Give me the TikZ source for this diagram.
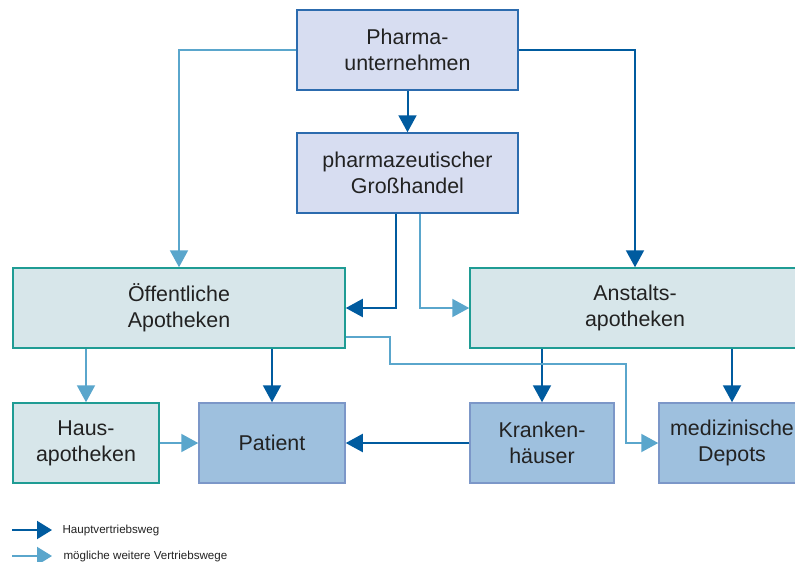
\documentclass[tikz,border=0pt]{standalone}
\usepackage{fontspec}
\setmainfont{Liberation Sans}
\usetikzlibrary{arrows.meta}
\definecolor{darkarrow}{HTML}{005B9F}
\definecolor{lightarrow}{HTML}{5AA6CC}
\definecolor{topfill}{HTML}{D7DDF1}
\definecolor{topdraw}{HTML}{2C6BAE}
\definecolor{midfill}{HTML}{D7E6EA}
\definecolor{middraw}{HTML}{1F9C94}
\definecolor{endfill}{HTML}{9EC0DE}
\definecolor{enddraw}{HTML}{7C97C8}
\definecolor{txt}{HTML}{222222}
\begin{document}
\begin{tikzpicture}[x=1pt,y=1pt,
  box/.style={rectangle, line width=1.5pt, minimum height=80pt, inner sep=0pt, align=center,
    text=txt, font=\fontsize{21.4}{26}\selectfont},
  topbox/.style={box, fill=topfill, draw=topdraw},
  midbox/.style={box, fill=midfill, draw=middraw},
  endbox/.style={box, fill=endfill, draw=enddraw},
  mainway/.style={draw=darkarrow, line width=2pt, -{Triangle[length=17pt,width=18pt]}},
  otherway/.style={draw=lightarrow, line width=2pt, -{Triangle[length=17pt,width=18pt]}},
  legtext/.style={anchor=west, text=txt, font=\fontsize{11.6}{13}\selectfont}]
\useasboundingbox (0,0) rectangle (795,-562);

\node[topbox, minimum width=221pt] (pharma) at (407.5,-50) {Pharma-\\unternehmen};
\node[topbox, minimum width=221pt] (gross) at (407.5,-173) {pharmazeutischer\\Großhandel};
\node[midbox, minimum width=332pt] (oeff) at (179,-308) {Öffentliche\\Apotheken};
\node[midbox, minimum width=330pt] (anst) at (635,-308) {Anstalts-\\apotheken};
\node[midbox, minimum width=146pt] (haus) at (86,-443) {Haus-\\apotheken};
\node[endbox, minimum width=146pt] (patient) at (272,-443) {Patient};
\node[endbox, minimum width=144pt] (kranken) at (542,-443) {Kranken-\\häuser};
\node[endbox, minimum width=146pt] (depots) at (732,-443) {medizinische\\Depots};

\coordinate (k1) at (390,-364);
\coordinate (k2) at (626,-364);

\draw[mainway] (pharma.south) -- (gross.north);
\draw[otherway] (pharma.west) -| (oeff.north);
\draw[mainway] (pharma.east) -| (anst.north);
\draw[mainway] ([xshift=-11.5pt]gross.south) |- (oeff.east);
\draw[otherway] ([xshift=12.5pt]gross.south) |- (anst.west);
\draw[otherway] (haus.north |- oeff.south) -- (haus.north);
\draw[mainway] (patient.north |- oeff.south) -- (patient.north);
\draw[mainway] (kranken.north |- anst.south) -- (kranken.north);
\draw[mainway] (depots.north |- anst.south) -- (depots.north);
\draw[mainway] (kranken.west) -- (patient.east);
\draw[otherway] (haus.east) -- (patient.west);
\draw[otherway] ([yshift=-29pt]oeff.east) -| (k1) -- (k2) |- (depots.west);

\coordinate (la1) at (12,-530);
\coordinate (la2) at (52,-530);
\coordinate (lb1) at (12,-556);
\coordinate (lb2) at (52,-556);
\draw[mainway, -{Triangle[length=15pt,width=18pt]}] (la1) -- (la2);
\draw[otherway, -{Triangle[length=15pt,width=18pt]}] (lb1) -- (lb2);
\node[legtext] (lega) at (59,-530) {Hauptvertriebsweg};
\node[legtext] (legb) at (60,-556) {mögliche weitere Vertriebswege};
\end{tikzpicture}
\end{document}
